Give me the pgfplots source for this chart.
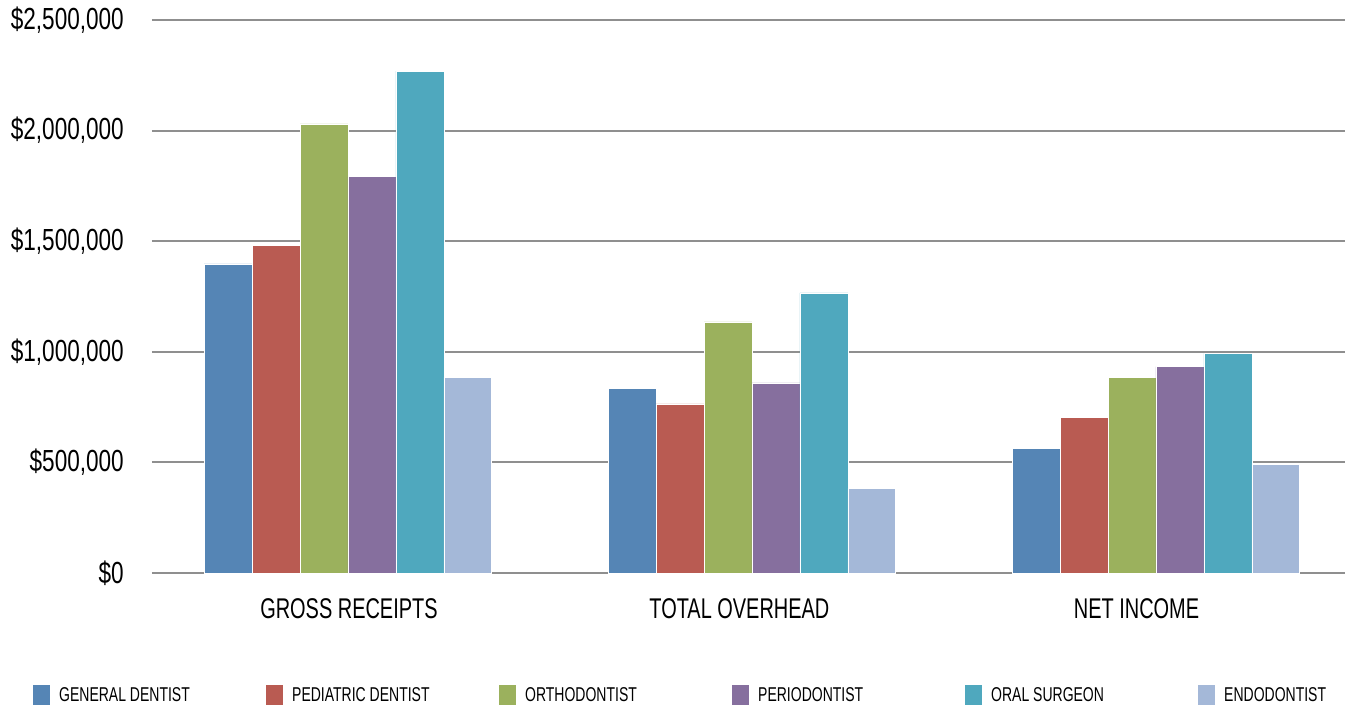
\documentclass[border=0pt]{standalone}
\usepackage{fontspec}
\setmainfont{Liberation Sans}[FakeStretch=0.70]
\newfontfamily\tickfont{Liberation Sans}[FakeStretch=0.74]
\usepackage{pgfplots}
\pgfplotsset{compat=1.18}

\definecolor{cgen}{HTML}{5585B5}
\definecolor{cped}{HTML}{B95B52}
\definecolor{cort}{HTML}{9BB15D}
\definecolor{cper}{HTML}{866F9E}
\definecolor{cora}{HTML}{4FA8BE}
\definecolor{cend}{HTML}{A4B8D8}
\definecolor{gridgray}{HTML}{8F8F8F}

\newcommand{\leg}[1]{\makebox[207pt][l]{#1}}

\begin{document}
\begin{tikzpicture}
	\path[use as bounding box] (-152pt,-134pt) rectangle (1202pt,573pt);
	\begin{axis}[
		scale only axis,
		width=1193pt, height=553pt,
		ybar=0pt, bar width=0.1186,
		xmin=-0.485, xmax=2.468,
		ymin=0, ymax=2500000,
		% category names sit a little left of the bar groups, as in the source
		xtick={0.0025,0.969,1.952},
		xticklabels={GROSS RECEIPTS, TOTAL OVERHEAD, NET INCOME},
		ytick={0,500000,1000000,1500000,2000000,2500000},
		yticklabels={\$0,{\$500,000},{\$1,000,000},{\$1,500,000},{\$2,000,000},{\$2,500,000}},
		scaled y ticks=false,
		major tick length=0pt,
		axis line style={draw=none},
		ymajorgrids,
		major grid style={gridgray, line width=2pt},
		yticklabel style={font=\tickfont\fontsize{30.5}{33}\selectfont, anchor=east, inner sep=0pt, xshift=-28pt},
		xticklabel style={font=\fontsize{28.5}{32}\selectfont, anchor=north, inner sep=0pt, yshift=-25pt},
		legend columns=6,
		legend style={at={(axis description cs:0,0)}, anchor=west, xshift=-119pt, yshift=-122pt,
			draw=none, fill=none, inner sep=0pt, row sep=0pt,
			font=\fontsize{20}{22}\selectfont,
			nodes={inner sep=0pt},
			/tikz/every odd column/.append style={column sep=9pt},
			/tikz/every even column/.append style={column sep=0pt}},
		legend cell align=left,
		every axis plot/.append style={draw=white, line width=0.5pt,
			legend image code/.code={\fill[##1, draw=none] (0pt,-10pt) rectangle (17pt,10pt);}},
		]
		\addplot[fill=cgen] coordinates {(0,1397000) (1,836000) (2,562000)};
		\addlegendentry{\leg{GENERAL DENTIST}}
		\addplot[fill=cped] coordinates {(0,1481000) (1,765000) (2,705000)};
		\addlegendentry{\leg{PEDIATRIC DENTIST}}
		\addplot[fill=cort] coordinates {(0,2030000) (1,1135000) (2,885000)};
		\addlegendentry{\leg{ORTHODONTIST}}
		\addplot[fill=cper] coordinates {(0,1792000) (1,860000) (2,933000)};
		\addlegendentry{\leg{PERIODONTIST}}
		\addplot[fill=cora] coordinates {(0,2269000) (1,1266000) (2,993000)};
		\addlegendentry{\leg{ORAL SURGEON}}
		\addplot[fill=cend] coordinates {(0,886000) (1,383000) (2,491000)};
		\addlegendentry{\leg{ENDODONTIST}}
	\end{axis}
\end{tikzpicture}
\end{document}
